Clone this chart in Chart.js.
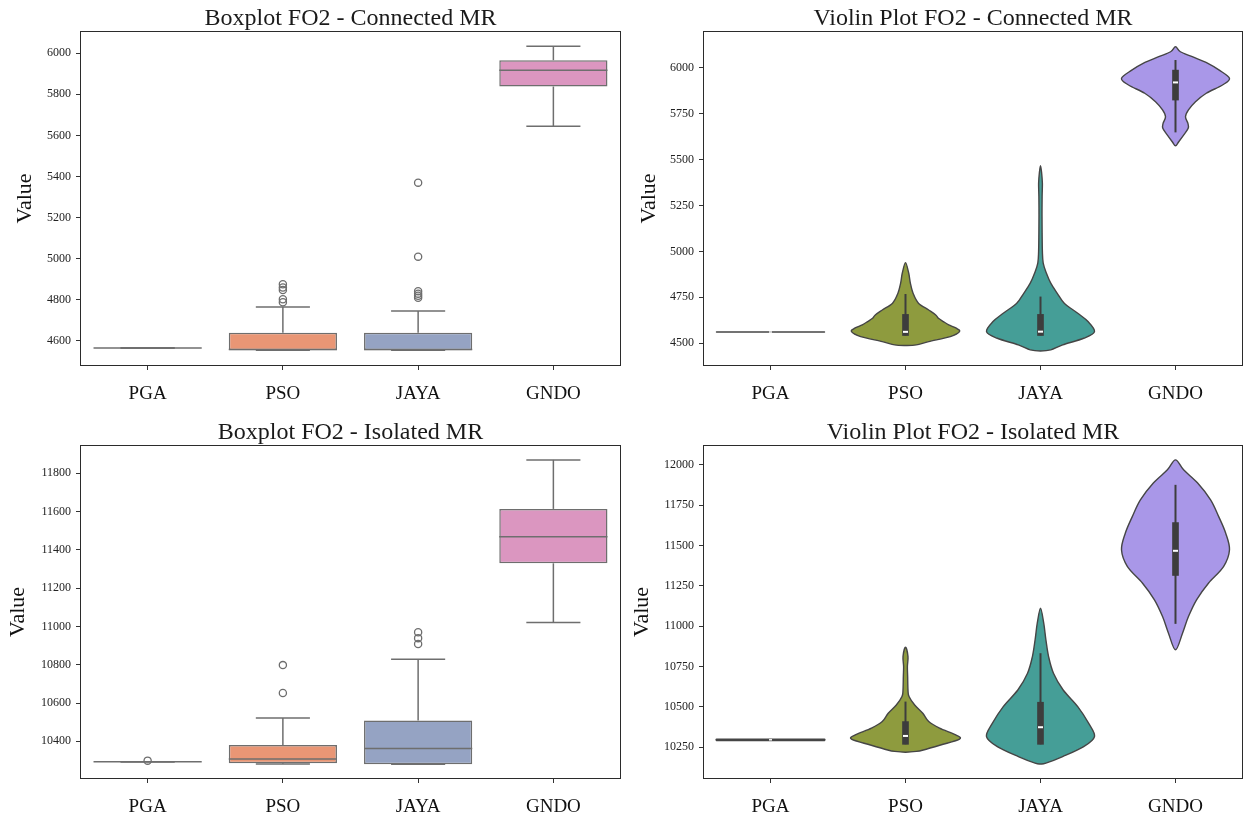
<!DOCTYPE html>
<html>
<head>
<meta charset="utf-8">
<title>FO2 - Boxplot e Violin Plot</title>
<script src="https://cdn.jsdelivr.net/npm/chart.js@4.4.1/dist/chart.umd.min.js"></script>
<style>
  html, body { margin: 0; padding: 0; background: #fff; }
  body { width: 1245px; height: 822px; position: relative; overflow: hidden; }
  canvas { position: absolute; }
</style>
</head>
<body>
<canvas id="boxConnected" width="630" height="410" style="left:0;top:0"></canvas>
<canvas id="violinConnected" width="625" height="410" style="left:620px;top:0"></canvas>
<canvas id="boxIsolated" width="630" height="412" style="left:0;top:410px"></canvas>
<canvas id="violinIsolated" width="625" height="412" style="left:620px;top:410px"></canvas>
<script>
var categories = ['PGA', 'PSO', 'JAYA', 'GNDO'];

// Boxplot FO2 - Connected MR
var connLow = [4565, 4555, 4555, 5645];
var connQ1 = [4565, 4555, 4555, 5838];
var connMedian = [4565, 4558, 4558, 5917];
var connQ3 = [4565, 4640, 4640, 5966];
var connHigh = [4565, 4765, 4746, 6034];
var connOutliers = [[], [4788, 4803, 4848, 4860, 4876], [4810, 4820, 4830, 4842, 5010, 5370], []];
var connBoxTicks = [4600, 4800, 5000, 5200, 5400, 5600, 5800, 6000];

// Violin Plot FO2 - Connected MR (density = share of the widest half-width)
var connViolinValues = [
  [4561],
  [4488, 4491, 4509, 4536, 4563, 4582, 4600, 4618, 4636, 4654, 4681, 4718, 4772, 4827, 4881, 4939],
  [4458, 4464, 4491, 4527, 4563, 4618, 4663, 4718, 4772, 4827, 4881, 4936, 5000, 5100, 5200, 5300, 5370, 5430, 5467],
  [5575, 5597, 5633, 5670, 5697, 5733, 5770, 5815, 5861, 5906, 5942, 5987, 6024, 6060, 6087, 6114]
];
var connViolinDensity = [
  [1],
  [0, 0.2, 0.43, 0.83, 1, 0.94, 0.8, 0.7, 0.61, 0.56, 0.43, 0.24, 0.14, 0.09, 0.06, 0],
  [0, 0.19, 0.41, 0.8, 1, 0.88, 0.69, 0.44, 0.31, 0.19, 0.11, 0.05, 0.035, 0.03, 0.028, 0.03, 0.035, 0.02, 0],
  [0, 0.06, 0.15, 0.235, 0.23, 0.185, 0.24, 0.37, 0.57, 0.87, 1, 0.81, 0.6, 0.31, 0.09, 0]
];
var connViolinLow = [4561, 4542, 4542, 5648];
var connViolinQ1 = [4561, 4542, 4542, 5824];
var connViolinMedian = [4561, 4562, 4563, 5920];
var connViolinQ3 = [4561, 4657, 4657, 5987];
var connViolinHigh = [4561, 4768, 4754, 6042];
var connViolinTicks = [4500, 4750, 5000, 5250, 5500, 5750, 6000];

// Boxplot FO2 - Isolated MR
var isoLow = [10293, 10281, 10280, 11021];
var isoQ1 = [10293, 10285, 10280, 11330];
var isoMedian = [10293, 10308, 10363, 11468];
var isoQ3 = [10293, 10381, 10508, 11614];
var isoHigh = [10293, 10522, 10828, 11870];
var isoOutliers = [[10299], [10652, 10798], [10908, 10939, 10970], []];
var isoBoxTicks = [10400, 10600, 10800, 11000, 11200, 11400, 11600, 11800];

// Violin Plot FO2 - Isolated MR
var isoViolinValues = [
  [10293, 10299],
  [10219, 10224, 10233, 10264, 10300, 10326, 10368, 10409, 10461, 10512, 10564, 10605, 10688, 10750, 10812, 10870],
  [10146, 10151, 10192, 10254, 10316, 10399, 10502, 10605, 10709, 10812, 10916, 11019, 11112],
  [10854, 10957, 11060, 11164, 11267, 11370, 11474, 11577, 11680, 11784, 11888, 11970, 12032]
];
var isoViolinDensity = [
  [1, 1],
  [0, 0.2, 0.33, 0.65, 1, 0.93, 0.63, 0.43, 0.32, 0.17, 0.065, 0.046, 0.04, 0.035, 0.046, 0],
  [0, 0.1, 0.41, 0.8, 1, 0.89, 0.69, 0.42, 0.24, 0.15, 0.1, 0.06, 0],
  [0, 0.13, 0.24, 0.39, 0.61, 0.89, 1, 0.93, 0.8, 0.65, 0.41, 0.15, 0]
];
var isoViolinLow = [10296, 10268, 10268, 11015];
var isoViolinQ1 = [10296, 10268, 10268, 11315];
var isoViolinMedian = [10296, 10320, 10374, 11468];
var isoViolinQ3 = [10296, 10409, 10529, 11643];
var isoViolinHigh = [10296, 10533, 10833, 11877];
var isoViolinTicks = [10250, 10500, 10750, 11000, 11250, 11500, 11750, 12000];

var boxColors = ['#66c2a5', '#e99675', '#95a3c3', '#db96c0'];
var violinColors = ['#e8808f', '#8e9b3e', '#459e97', '#a997e8'];
var serif = "'Liberation Serif', 'DejaVu Serif', serif";
var boxLine = '#6e6e6e';
var violinLine = '#454545';
var innerColor = '#3d3d3d';

function line(ctx, x1, y1, x2, y2) {
  ctx.beginPath();
  ctx.moveTo(x1, y1);
  ctx.lineTo(x2, y2);
  ctx.stroke();
}

// cornice intorno all'area del grafico (come gli spine di matplotlib)
var framePlugin = {
  id: 'frame',
  afterDraw: function (chart) {
    var a = chart.chartArea, ctx = chart.ctx;
    ctx.save();
    ctx.strokeStyle = '#2b2b2b';
    ctx.lineWidth = 1;
    ctx.strokeRect(Math.round(a.left) + 0.5, Math.round(a.top) + 0.5,
      Math.round(a.right - a.left) - 1, Math.round(a.bottom - a.top) - 1);
    ctx.restore();
  }
};

function makeBoxPlugin(low, median, high, q1, q3) {
  return {
    id: 'boxParts',
    afterDatasetsDraw: function (chart) {
      var ctx = chart.ctx, x = chart.scales.x, y = chart.scales.y;
      var band = x.getPixelForValue(1) - x.getPixelForValue(0);
      ctx.save();
      ctx.strokeStyle = boxLine;
      ctx.lineWidth = 1.5;
      for (var i = 0; i < categories.length; i++) {
        var cx = x.getPixelForValue(i);
        var yLo = y.getPixelForValue(low[i]), yHi = y.getPixelForValue(high[i]);
        line(ctx, cx, y.getPixelForValue(q3[i]), cx, yHi);
        line(ctx, cx, y.getPixelForValue(q1[i]), cx, yLo);
        line(ctx, cx - band * 0.2, yHi, cx + band * 0.2, yHi);
        line(ctx, cx - band * 0.2, yLo, cx + band * 0.2, yLo);
        var yMed = y.getPixelForValue(median[i]);
        line(ctx, cx - band * 0.4, yMed, cx + band * 0.4, yMed);
      }
      ctx.restore();
    }
  };
}

// contorno: lato destro dal basso verso l'alto, poi lato sinistro verso il basso
function buildOutline(cx, half, vals, dens, y) {
  var pts = [], k;
  for (k = 0; k < vals.length; k++) {
    pts.push([cx + dens[k] * half, y.getPixelForValue(vals[k])]);
  }
  for (k = vals.length - 2; k >= 1; k--) {
    pts.push([cx - dens[k] * half, y.getPixelForValue(vals[k])]);
  }
  return pts;
}

// curva chiusa catmull-rom attraverso i punti del contorno
function smoothPath(ctx, pts) {
  var n = pts.length;
  ctx.beginPath();
  ctx.moveTo(pts[0][0], pts[0][1]);
  for (var i = 0; i < n; i++) {
    var p0 = pts[(i - 1 + n) % n], p1 = pts[i], p2 = pts[(i + 1) % n], p3 = pts[(i + 2) % n];
    ctx.bezierCurveTo(
      p1[0] + (p2[0] - p0[0]) / 6, p1[1] + (p2[1] - p0[1]) / 6,
      p2[0] - (p3[0] - p1[0]) / 6, p2[1] - (p3[1] - p1[1]) / 6,
      p2[0], p2[1]);
  }
  ctx.closePath();
}

function makeViolinPlugin(values, density, low, median, high) {
  return {
    id: 'violins',
    beforeDatasetsDraw: function (chart) {
      var ctx = chart.ctx, x = chart.scales.x, y = chart.scales.y;
      var band = x.getPixelForValue(1) - x.getPixelForValue(0);
      ctx.save();
      ctx.lineJoin = 'round';
      for (var i = 0; i < categories.length; i++) {
        var cx = x.getPixelForValue(i), half = band * 0.4;
        var vals = values[i], dens = density[i];
        ctx.fillStyle = violinColors[i];
        ctx.strokeStyle = violinLine;
        if (vals.length < 3) {
          // violino piatto: tutti i valori quasi uguali
          var yTop = y.getPixelForValue(vals[vals.length - 1]);
          ctx.beginPath();
          ctx.rect(cx - half, yTop, half * 2, y.getPixelForValue(vals[0]) - yTop);
          ctx.fill();
          ctx.lineWidth = vals.length === 1 ? 1.4 : 1.8;
          ctx.stroke();
        } else {
          smoothPath(ctx, buildOutline(cx, half, vals, dens, y));
          ctx.lineWidth = 1.4;
          ctx.fill();
          ctx.stroke();
        }
        // baffi del box interno
        ctx.strokeStyle = innerColor;
        ctx.lineWidth = 2;
        if (high[i] > low[i]) line(ctx, cx, y.getPixelForValue(low[i]), cx, y.getPixelForValue(high[i]));
      }
      ctx.restore();
    },
    afterDatasetsDraw: function (chart) {
      var ctx = chart.ctx, x = chart.scales.x, y = chart.scales.y;
      ctx.save();
      ctx.fillStyle = '#ffffff';
      for (var i = 0; i < categories.length; i++) {
        var cx = x.getPixelForValue(i), cy = y.getPixelForValue(median[i]);
        if (high[i] > low[i]) ctx.fillRect(cx - 2.5, cy - 1, 5, 2);
        else ctx.fillRect(cx - 1.5, cy - 0.7, 3, 1.4);
      }
      ctx.restore();
    }
  };
}

function baseOptions(cfg) {
  return {
    responsive: false,
    animation: false,
    devicePixelRatio: 1,
    layout: { padding: { left: 0, right: cfg.padRight, top: 0, bottom: 0 } },
    plugins: {
      legend: { display: false },
      tooltip: { enabled: false },
      title: {
        display: true,
        text: cfg.title,
        fullSize: false,
        color: '#1a1a1a',
        font: { family: serif, size: 24, weight: 'normal', lineHeight: 1 },
        padding: { top: cfg.titleTop, bottom: cfg.titleBottom }
      }
    },
    scales: {
      x: {
        type: 'category',
        offset: true,
        grid: { display: true, offset: false, drawOnChartArea: false, drawTicks: true, tickLength: 4, color: '#333' },
        border: { display: false },
        ticks: { color: '#111', font: { family: serif, size: 19 }, padding: 13, maxRotation: 0, autoSkip: false },
        afterFit: function (s) { s.height = cfg.xHeight; }
      },
      y: {
        type: 'linear',
        min: cfg.min,
        max: cfg.max,
        beginAtZero: false,
        afterBuildTicks: function (s) {
          s.ticks = cfg.ticks.map(function (v) { return { value: v }; });
        },
        ticks: {
          color: '#222',
          font: { family: serif, size: 12 },
          padding: 5,
          callback: function (v) { return String(v); }
        },
        grid: { display: true, drawOnChartArea: false, drawTicks: true, tickLength: 4, color: '#333' },
        border: { display: false },
        title: {
          display: true,
          text: 'Value',
          color: '#111',
          font: { family: serif, size: 22, lineHeight: 1.2 },
          padding: { top: cfg.valueTop, bottom: 0 }
        },
        afterFit: function (s) { s.width = cfg.yWidth; }
      }
    }
  };
}

function outlierPoints(outliers) {
  var pts = [];
  for (var i = 0; i < outliers.length; i++) {
    for (var j = 0; j < outliers[i].length; j++) {
      pts.push({ x: categories[i], y: outliers[i][j] });
    }
  }
  return pts;
}

function boxChart(id, cfg, low, q1, median, q3, high, outliers) {
  return new Chart(document.getElementById(id), {
    type: 'bar',
    data: {
      labels: categories,
      datasets: [{
        data: categories.map(function (c, i) { return [q1[i], q3[i]]; }),
        backgroundColor: boxColors,
        borderColor: boxLine,
        borderWidth: 1.5,
        borderSkipped: false,
        categoryPercentage: 0.8,
        barPercentage: 1.0
      }, {
        type: 'scatter',
        data: outlierPoints(outliers),
        pointRadius: 3.6,
        pointBorderWidth: 1.3,
        pointBorderColor: boxLine,
        pointBackgroundColor: 'rgba(0,0,0,0)'
      }]
    },
    options: baseOptions(cfg),
    plugins: [makeBoxPlugin(low, median, high, q1, q3), framePlugin]
  });
}

function violinChart(id, cfg, values, density, low, q1, median, q3, high) {
  return new Chart(document.getElementById(id), {
    type: 'bar',
    data: {
      labels: categories,
      datasets: [{
        data: categories.map(function (c, i) { return q3[i] > q1[i] ? [q1[i], q3[i]] : null; }),
        backgroundColor: innerColor,
        borderWidth: 0,
        barThickness: 6
      }]
    },
    options: baseOptions(cfg),
    plugins: [makeViolinPlugin(values, density, low, median, high), framePlugin]
  });
}

boxChart('boxConnected', {
  title: 'Boxplot FO2 - Connected MR', min: 4478, max: 6108, ticks: connBoxTicks,
  yWidth: 80, padRight: 9, xHeight: 44, titleTop: 7, titleBottom: 0, valueTop: 11.8
}, connLow, connQ1, connMedian, connQ3, connHigh, connOutliers);

violinChart('violinConnected', {
  title: 'Violin Plot FO2 - Connected MR', min: 4376, max: 6200, ticks: connViolinTicks,
  yWidth: 83, padRight: 2, xHeight: 44, titleTop: 7, titleBottom: 0, valueTop: 15.8
}, connViolinValues, connViolinDensity, connViolinLow, connViolinQ1, connViolinMedian, connViolinQ3, connViolinHigh);

boxChart('boxIsolated', {
  title: 'Boxplot FO2 - Isolated MR', min: 10203, max: 11948, ticks: isoBoxTicks,
  yWidth: 80, padRight: 9, xHeight: 43, titleTop: 11, titleBottom: 0, valueTop: 4.8
}, isoLow, isoQ1, isoMedian, isoQ3, isoHigh, isoOutliers);

violinChart('violinIsolated', {
  title: 'Violin Plot FO2 - Isolated MR', min: 10053, max: 12124, ticks: isoViolinTicks,
  yWidth: 83, padRight: 2, xHeight: 43, titleTop: 11, titleBottom: 0, valueTop: 8.8
}, isoViolinValues, isoViolinDensity, isoViolinLow, isoViolinQ1, isoViolinMedian, isoViolinQ3, isoViolinHigh);
</script>
</body>
</html>
